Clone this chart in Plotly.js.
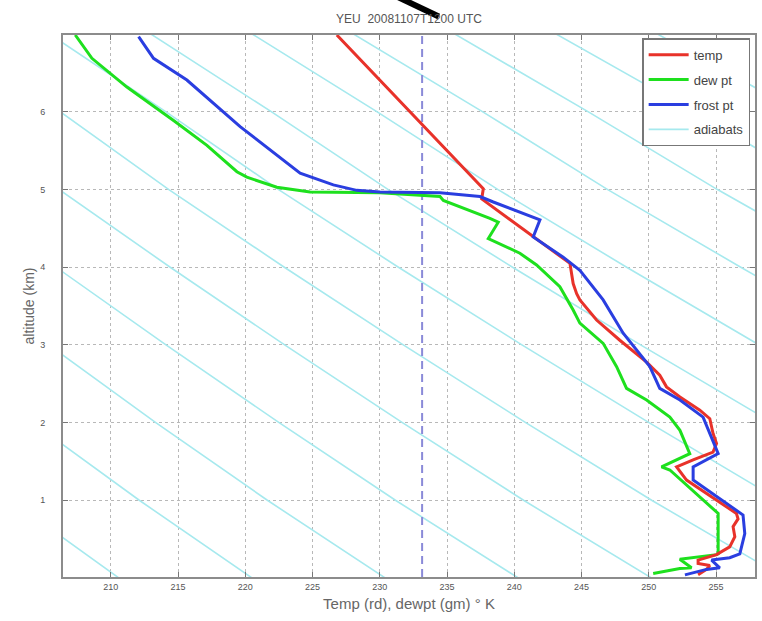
<!DOCTYPE html>
<html>
<head>
<meta charset="utf-8">
<script src="https://cdn.plot.ly/plotly-3.0.1.min.js"></script>
<style>html,body{margin:0;padding:0;background:#fff;}#chart{width:762px;height:621px;}</style>
</head>
<body>
<div id="chart"></div>
<script>
// ---- data ----
const tempT = [226.81, 232.25, 234.98, 237.70, 237.58, 241.17, 241.66, 243.39, 244.14, 244.38, 244.64, 244.88, 246.12, 247.85, 249.84, 250.82, 251.32, 252.32, 253.80, 254.54, 254.78, 255.04, 254.78, 253.30, 252.07, 252.81, 256.52, 256.64, 256.27, 256.40, 256.02, 255.04, 253.67, 253.67, 254.54, 254.29, 253.67];
const tempZ = [6.99, 6.00, 5.51, 5.01, 4.88, 4.43, 4.37, 4.15, 4.05, 3.79, 3.66, 3.58, 3.32, 3.06, 2.78, 2.61, 2.46, 2.33, 2.16, 2.05, 1.86, 1.73, 1.62, 1.52, 1.43, 1.26, 0.83, 0.76, 0.66, 0.53, 0.40, 0.30, 0.23, 0.185, 0.16, 0.11, 0.04];

const dewT = [207.36, 208.6, 211.2, 214.67, 217.15, 219.38, 220.12, 222.35, 224.82, 230.02, 234.48, 234.73, 238.19, 238.81, 238.07, 240.42, 241.66, 243.39, 244.38, 244.88, 246.61, 247.61, 248.35, 249.84, 251.57, 252.32, 253.05, 250.95, 251.57, 255.16, 255.16, 255.04, 252.31, 253.18, 252.31, 250.33];
const dewZ = [6.99, 6.69, 6.32, 5.89, 5.57, 5.23, 5.16, 5.03, 4.97, 4.96, 4.91, 4.86, 4.63, 4.58, 4.37, 4.18, 4.03, 3.75, 3.45, 3.28, 3.02, 2.72, 2.44, 2.29, 2.07, 1.90, 1.60, 1.43, 1.39, 0.83, 0.31, 0.30, 0.24, 0.13, 0.12, 0.056];

const frostT = [212.07, 213.18, 215.66, 219.62, 224.08, 226.55, 228.29, 230.02, 234.48, 237.45, 238.44, 241.91, 241.41, 243.64, 244.88, 246.61, 248.10, 250.08, 250.82, 252.32, 254.04, 254.78, 255.16, 253.30, 253.30, 257.01, 257.14, 256.77, 256.02, 254.67, 255.28, 254.29, 252.69];
const frostZ = [6.97, 6.69, 6.41, 5.81, 5.21, 5.06, 4.99, 4.97, 4.96, 4.91, 4.84, 4.61, 4.39, 4.13, 3.96, 3.58, 3.15, 2.72, 2.44, 2.29, 2.07, 1.77, 1.60, 1.43, 1.26, 0.81, 0.57, 0.31, 0.26, 0.23, 0.13, 0.11, 0.04];

// adiabats: potential temperature of each line, and T/theta ratio vs. altitude
const adiabatTheta = [210.6, 220.5, 230.4, 240.3, 250.2, 260.1, 270.0, 279.9, 289.8, 299.7, 309.6, 319.5, 329.4, 339.3];
const adiabatZ = [0, 1, 2, 3, 4, 5, 6, 7];
const adiabatRatio = [1.000, 0.962, 0.926, 0.891, 0.857, 0.824, 0.793, 0.761];

const freezeT = 233.15;

const xTicks = [210, 215, 220, 225, 230, 235, 240, 245, 250, 255];
const yTicks = [1, 2, 3, 4, 5, 6];
const xRange = [206.45, 257.9];
const yRange = [0.012, 6.99];

// ---- build traces ----
const adX = [], adY = [];
adiabatTheta.forEach(function (th) {
  adiabatZ.forEach(function (z, i) { adX.push(th * adiabatRatio[i]); adY.push(z); });
  adX.push(null); adY.push(null);
});

const traces = [
  {x: adX, y: adY, mode: 'lines', name: 'adiabats', legendrank: 4, legendgroup: 'd',
   line: {color: '#a6e9ee', width: 1.6}, hoverinfo: 'skip', connectgaps: false},
  {x: [freezeT, freezeT], y: yRange, mode: 'lines', showlegend: false,
   line: {color: '#8a8ad8', width: 2, dash: '8px,5px'}, hoverinfo: 'skip'},
  {x: dewT, y: dewZ, mode: 'lines', name: 'dew pt', legendrank: 2, legendgroup: 'b',
   line: {color: '#1ee01e', width: 3}},
  {x: tempT, y: tempZ, mode: 'lines', name: 'temp', legendrank: 1, legendgroup: 'a',
   line: {color: '#e8322a', width: 3}},
  {x: frostT, y: frostZ, mode: 'lines', name: 'frost pt', legendrank: 3, legendgroup: 'c',
   line: {color: '#2a3ee0', width: 3}}
];

const axisCommon = {
  showline: true, linecolor: '#8c8c8c', linewidth: 2, mirror: 'allticks',
  ticks: 'inside', ticklen: 5, tickcolor: '#777', tickwidth: 1,
  showgrid: true, gridcolor: '#b8b8b8', griddash: 'dot', gridwidth: 1,
  zeroline: false, tickfont: {size: 9, color: '#555', family: 'Liberation Sans, Arial, sans-serif'}
};

const layout = {
  width: 762, height: 621,
  margin: {l: 63, r: 7, t: 35, b: 44},
  paper_bgcolor: '#fff', plot_bgcolor: '#fff',
  font: {family: 'Liberation Sans, Arial, sans-serif', color: '#555'},
  title: {text: 'YEU  20081107T1200 UTC', x: 0.5, xanchor: 'center', xref: 'paper',
          y: 0.97, yanchor: 'middle', font: {size: 12, color: '#555'}},
  xaxis: Object.assign({}, axisCommon, {
    range: xRange, tickvals: xTicks, ticktext: xTicks.map(String),
    title: {text: 'Temp (rd), dewpt (gm) \u00b0 K', font: {size: 15, color: '#666'}, standoff: 8}
  }),
  yaxis: Object.assign({}, axisCommon, {
    range: yRange, tickvals: yTicks, ticktext: yTicks.map(String), ticklabelstandoff: 14,
    title: {text: 'altitude (km)', font: {size: 14, color: '#666'}, standoff: 2}
  }),
  showlegend: true,
  legend: {x: 0.993, y: 0.994, xanchor: 'right', yanchor: 'top',
           bgcolor: '#fff', bordercolor: '#777', borderwidth: 1.5,
           font: {size: 13, color: '#444'}, itemwidth: 40, tracegroupgap: 5},
  shapes: [
    {type: 'line', xref: 'paper', yref: 'paper', x0: 0.484, y0: 1.07, x1: 0.543, y1: 1.034,
     line: {color: '#000', width: 6}}
  ]
};

Plotly.newPlot('chart', traces, layout, {displayModeBar: false, staticPlot: true});
</script>
</body>
</html>
